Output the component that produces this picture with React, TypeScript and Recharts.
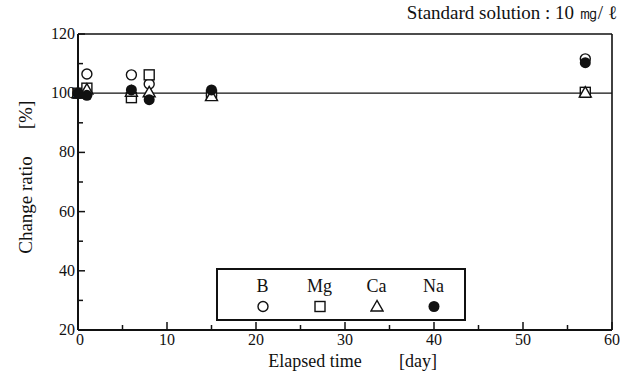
import { ScatterChart, Scatter, XAxis, YAxis, ReferenceLine, Legend } from 'recharts'

const days = [0, 1, 6, 8, 15, 57]
const boron = [100, 106.5, 106.2, 103.1, 99.3, 111.6]
const magnesium = [100, 101.7, 98.5, 106.2, 99.3, 100.3]
const calcium = [100, 101.2, 100.5, 100.3, 99.0, 100.2]
const sodium = [100, 99.3, 101.1, 97.8, 101.1, 110.3]

const xTicks = [0, 5, 10, 15, 20, 25, 30, 35, 40, 45, 50, 55, 60]
const yTicks = [20, 30, 40, 50, 60, 70, 80, 90, 100, 110, 120]

const FONT = "'Liberation Serif', 'DejaVu Serif', serif"
const INK = '#111'

const toPoints = (values: number[]) => days.map((d, i) => ({ day: d, value: values[i] }))

type Mark = 'circle' | 'square' | 'triangle' | 'dot'

function Symbol({ kind, cx, cy }: { kind: Mark; cx: number; cy: number }) {
  if (kind === 'circle')
    return <circle cx={cx} cy={cy} r={5} fill="#fff" stroke={INK} strokeWidth={1.4} />
  if (kind === 'square')
    return <rect x={cx - 5} y={cy - 5} width={10} height={10} fill="#fff" stroke={INK} strokeWidth={1.4} />
  if (kind === 'triangle')
    return (
      <polygon
        points={`${cx},${cy - 6} ${cx - 6},${cy + 4.5} ${cx + 6},${cy + 4.5}`}
        fill="#fff"
        stroke={INK}
        strokeWidth={1.4}
      />
    )
  return <circle cx={cx} cy={cy} r={5.5} fill={INK} />
}

const series: { name: string; values: number[]; mark: Mark }[] = [
  { name: 'B', values: boron, mark: 'circle' },
  { name: 'Mg', values: magnesium, mark: 'square' },
  { name: 'Ca', values: calcium, mark: 'triangle' },
  { name: 'Na', values: sodium, mark: 'dot' },
]

function Label({ x, y, size = 16, anchor = 'middle', transform, children }: any) {
  return (
    <text x={x} y={y} transform={transform} textAnchor={anchor} fontSize={size} fontFamily={FONT} fill={INK}>
      {children}
    </text>
  )
}

function BottomTick({ x, y, payload }: any) {
  const major = payload.value % 10 === 0
  return (
    <g>
      <line x1={x} x2={x} y1={y} y2={y - (major ? 8 : 5)} stroke={INK} strokeWidth={1.5} />
      {major && (
        <Label x={x + (payload.value === 0 ? 2 : 0)} y={y + 15} size={16}>
          {payload.value}
        </Label>
      )}
    </g>
  )
}

function TopTick({ x, y, payload }: any) {
  if (payload.value === 0 || payload.value === 60) return <g />
  const major = payload.value % 10 === 0
  return <line x1={x} x2={x} y1={y} y2={y + (major ? 7 : 5)} stroke={INK} strokeWidth={1.5} />
}

function LeftTick({ x, y, payload }: any) {
  const major = payload.value % 20 === 0
  return (
    <g>
      <line x1={x} x2={x + (major ? 7 : 5)} y1={y} y2={y} stroke={INK} strokeWidth={1.5} />
      {major && (
        <Label x={x - 3} y={y + 5} size={16} anchor="end">
          {payload.value}
        </Label>
      )}
    </g>
  )
}

function RightTick({ x, y, payload }: any) {
  if (payload.value === 20 || payload.value === 120) return <g />
  const major = payload.value % 20 === 0
  return <line x1={x} x2={x - (major ? 7 : 5)} y1={y} y2={y} stroke={INK} strokeWidth={1.5} />
}

function LegendBox() {
  return (
    <div
      style={{
        width: 250,
        height: 53,
        boxSizing: 'border-box',
        border: `2px solid ${INK}`,
        display: 'flex',
        paddingLeft: 16,
        fontFamily: FONT,
        background: '#fff',
      }}
    >
      {series.map((s) => (
        <div key={s.name} style={{ width: 57, textAlign: 'center', color: INK }}>
          <div style={{ fontSize: 18, lineHeight: '18px', marginTop: 7 }}>{s.name}</div>
          <svg width={14} height={14} style={{ display: 'block', margin: '4px auto 0' }}>
            <Symbol kind={s.mark} cx={7} cy={7.5} />
          </svg>
        </div>
      ))}
    </div>
  )
}

export default function App() {
  return (
    <div style={{ position: 'absolute', left: 0, top: 0, width: 620, height: 372, background: '#fff' }}>
      <ScatterChart width={620} height={372} margin={{ top: 33, right: 0, bottom: 0, left: 0 }}>
        <XAxis
          dataKey="day"
          type="number"
          domain={[0, 60]}
          ticks={xTicks}
          interval={0}
          tickSize={0}
          tickMargin={0}
          height={42}
          axisLine={{ stroke: INK, strokeWidth: 2 }}
          tick={<BottomTick />}
          label={{
            content: () => (
              <g>
                <Label x={315} y={367} size={18}>
                  Elapsed time
                </Label>
                <Label x={418} y={367} size={18}>
                  [day]
                </Label>
                <Label x={617} y={19} size={19} anchor="end">
                  Standard solution : 10 ㎎/ ℓ
                </Label>
              </g>
            ),
          }}
        />
        <XAxis
          xAxisId="top"
          orientation="top"
          type="number"
          domain={[0, 60]}
          ticks={xTicks}
          interval={0}
          tickSize={0}
          tickMargin={0}
          height={1}
          axisLine={{ stroke: INK, strokeWidth: 1.6 }}
          tick={<TopTick />}
        />
        <YAxis
          dataKey="value"
          type="number"
          domain={[20, 120]}
          ticks={yTicks}
          interval={0}
          tickSize={0}
          tickMargin={0}
          width={78}
          axisLine={{ stroke: INK, strokeWidth: 2 }}
          tick={<LeftTick />}
          label={{
            content: () => (
              <g>
                <Label x={0} y={0} size={19} transform="translate(32, 205) rotate(-90)">
                  Change ratio
                </Label>
                <Label x={0} y={0} size={19} transform="translate(32, 115) rotate(-90)">
                  [%]
                </Label>
              </g>
            ),
          }}
        />
        <YAxis
          yAxisId="right"
          orientation="right"
          type="number"
          domain={[20, 120]}
          ticks={yTicks}
          interval={0}
          tickSize={0}
          tickMargin={0}
          width={8}
          axisLine={{ stroke: INK, strokeWidth: 1.6 }}
          tick={<RightTick />}
        />
        <ReferenceLine y={100} stroke={INK} strokeWidth={1.3} />
        {series.map((s) => (
          <Scatter
            key={s.name}
            name={s.name}
            data={toPoints(s.values)}
            isAnimationActive={false}
            shape={(p: any) => <Symbol kind={s.mark} cx={p.cx} cy={p.cy} />}
          />
        ))}
        <Legend
          layout="horizontal"
          verticalAlign="middle"
          align="center"
          wrapperStyle={{ left: 216, top: 268, width: 250, height: 53 }}
          content={<LegendBox />}
        />
      </ScatterChart>
    </div>
  )
}
